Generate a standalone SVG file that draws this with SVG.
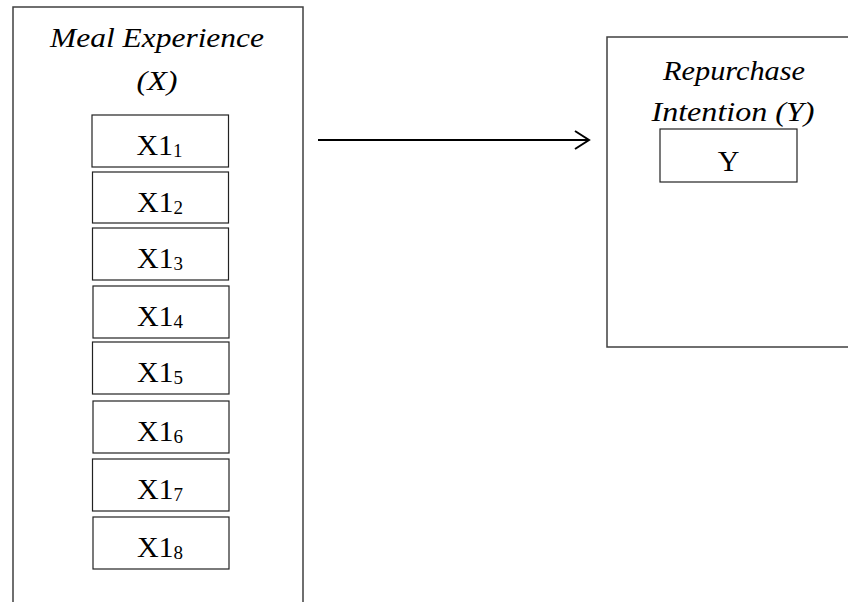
<svg xmlns="http://www.w3.org/2000/svg" width="848" height="602" viewBox="0 0 848 602">
<style>
.frame{fill:none;stroke:#404040;stroke-width:1.5}
.box{fill:#fff;stroke:#222;stroke-width:1.2}
.title{font-family:"Liberation Serif","Times New Roman",serif;font-style:italic;font-size:28px;fill:#000;text-anchor:middle}
.lbl{font-family:"Liberation Serif","Times New Roman",serif;font-size:30px;fill:#000;text-anchor:middle}
.sub{font-size:19px}
.conn{stroke:#000;stroke-width:2;fill:none}
</style>
<rect width="848" height="602" fill="#fff"/>
<g id="meal-experience">
<path class="frame" d="M13,602 V7 H303 V602"/>
<text class="title" x="157" y="47" textLength="214" lengthAdjust="spacingAndGlyphs">Meal Experience</text>
<text class="title" x="157" y="90" textLength="41" lengthAdjust="spacingAndGlyphs">(X)</text>
</g>
<g id="x1-1"><rect class="box" x="92" y="115" width="136.5" height="52"/><text class="lbl" x="159.5" y="155">X1<tspan class="sub" dy="2">1</tspan></text></g>
<g id="x1-2"><rect class="box" x="92.5" y="172" width="136" height="51"/><text class="lbl" x="160" y="212">X1<tspan class="sub" dy="2">2</tspan></text></g>
<g id="x1-3"><rect class="box" x="92.5" y="228" width="136" height="52"/><text class="lbl" x="160" y="268">X1<tspan class="sub" dy="2">3</tspan></text></g>
<g id="x1-4"><rect class="box" x="93" y="286" width="136" height="52"/><text class="lbl" x="160" y="326">X1<tspan class="sub" dy="2">4</tspan></text></g>
<g id="x1-5"><rect class="box" x="92.5" y="342" width="136.5" height="52"/><text class="lbl" x="160" y="382">X1<tspan class="sub" dy="2">5</tspan></text></g>
<g id="x1-6"><rect class="box" x="93" y="401" width="136" height="52"/><text class="lbl" x="160" y="441">X1<tspan class="sub" dy="2">6</tspan></text></g>
<g id="x1-7"><rect class="box" x="92.5" y="459" width="136.5" height="52"/><text class="lbl" x="160" y="499">X1<tspan class="sub" dy="2">7</tspan></text></g>
<g id="x1-8"><rect class="box" x="93" y="517" width="136" height="52"/><text class="lbl" x="160" y="557">X1<tspan class="sub" dy="2">8</tspan></text></g>
<g id="repurchase-intention">
<path class="frame" d="M848,37 H607 V347 H848"/>
<text class="title" x="734" y="80" textLength="142" lengthAdjust="spacingAndGlyphs">Repurchase</text>
<text class="title" x="733" y="121" textLength="163" lengthAdjust="spacingAndGlyphs">Intention (Y)</text>
</g>
<g id="y"><rect class="box" x="660" y="129" width="137" height="53"/><text class="lbl" x="728.5" y="171">Y</text></g>
<g id="connectors">
<line class="conn" x1="318" y1="140" x2="588" y2="140"/>
<polyline class="conn" points="575,131 589,140 575,149"/>
</g>
</svg>
